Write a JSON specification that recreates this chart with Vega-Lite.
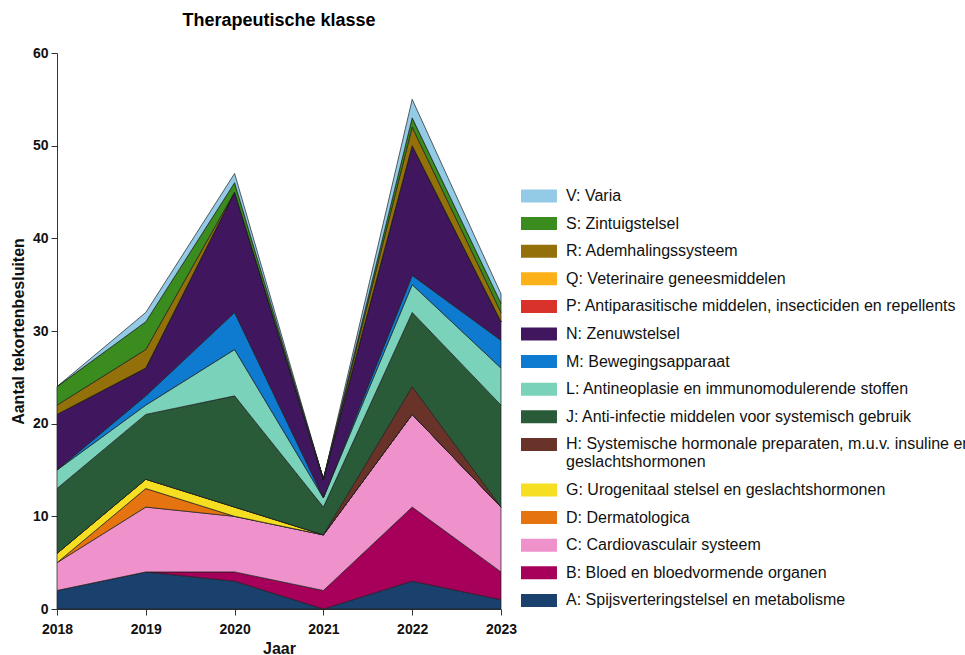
{
  "$schema": "https://vega.github.io/schema/vega-lite/v6.json",
  "width": 444,
  "height": 556,
  "autosize": {"type": "none"},
  "padding": {"left": 57, "top": 53, "right": 464, "bottom": 46},
  "background": "white",
  "config": {
    "view": {"stroke": null},
    "font": "Liberation Sans"
  },
  "title": {
    "text": "Therapeutische klasse",
    "fontSize": 18,
    "fontWeight": "bold",
    "font": "Liberation Sans",
    "color": "#000",
    "anchor": "middle",
    "baseline": "alphabetic",
    "offset": 2
  },
  "datasets": {
    "counts": [
      {"jaar": 2018, "A": 2, "B": 0, "C": 3, "D": 0, "G": 1, "H": 0, "J": 7, "L": 2, "M": 0, "N": 6, "P": 0, "Q": 0, "R": 1, "S": 2, "V": 0},
      {"jaar": 2019, "A": 4, "B": 0, "C": 7, "D": 2, "G": 1, "H": 0, "J": 7, "L": 1, "M": 1, "N": 3, "P": 0, "Q": 0, "R": 2, "S": 3, "V": 1},
      {"jaar": 2020, "A": 3, "B": 1, "C": 6, "D": 0, "G": 1, "H": 0, "J": 12, "L": 5, "M": 4, "N": 13, "P": 0, "Q": 0, "R": 0, "S": 1, "V": 1},
      {"jaar": 2021, "A": 0, "B": 2, "C": 6, "D": 0, "G": 0, "H": 0, "J": 3, "L": 1, "M": 0, "N": 2, "P": 0, "Q": 0, "R": 0, "S": 0, "V": 0},
      {"jaar": 2022, "A": 3, "B": 8, "C": 10, "D": 0, "G": 0, "H": 3, "J": 8, "L": 3, "M": 1, "N": 14, "P": 0, "Q": 0, "R": 2, "S": 1, "V": 2},
      {"jaar": 2023, "A": 1, "B": 3, "C": 7, "D": 0, "G": 0, "H": 0, "J": 11, "L": 4, "M": 3, "N": 2, "P": 0, "Q": 0, "R": 1, "S": 1, "V": 1}
    ],
    "klassen": [
      {"code": "A", "label": "A: Spijsverteringstelsel en metabolisme"},
      {"code": "B", "label": "B: Bloed en bloedvormende organen"},
      {"code": "C", "label": "C: Cardiovasculair systeem"},
      {"code": "D", "label": "D: Dermatologica"},
      {"code": "G", "label": "G: Urogenitaal stelsel en geslachtshormonen"},
      {"code": "H", "label": "H: Systemische hormonale preparaten, m.u.v. insuline en|geslachtshormonen"},
      {"code": "J", "label": "J: Anti-infectie middelen voor systemisch gebruik"},
      {"code": "L", "label": "L: Antineoplasie en immunomodulerende stoffen"},
      {"code": "M", "label": "M: Bewegingsapparaat"},
      {"code": "N", "label": "N: Zenuwstelsel"},
      {"code": "P", "label": "P: Antiparasitische middelen, insecticiden en repellents"},
      {"code": "Q", "label": "Q: Veterinaire geneesmiddelen"},
      {"code": "R", "label": "R: Ademhalingssysteem"},
      {"code": "S", "label": "S: Zintuigstelsel"},
      {"code": "V", "label": "V: Varia"}
    ]
  },
  "data": {"name": "counts"},
  "transform": [
    {"fold": ["A", "B", "C", "D", "G", "H", "J", "L", "M", "N", "P", "Q", "R", "S", "V"], "as": ["code", "n"]},
    {"lookup": "code", "from": {"data": {"name": "klassen"}, "key": "code", "fields": ["label"]}}
  ],
  "mark": {
    "type": "area",
    "line": false,
    "interpolate": "linear",
    "stroke": "#1e1e1e",
    "strokeWidth": 0.7,
    "fillOpacity": 1
  },
  "encoding": {
    "x": {
      "field": "jaar",
      "type": "quantitative",
      "scale": {"domain": [2018, 2023], "nice": false, "zero": false},
      "axis": {
        "title": "Jaar",
        "values": [2018, 2019, 2020, 2021, 2022, 2023],
        "format": "d",
        "grid": false,
        "labelFlush": false,
        "labelFontSize": 14,
        "labelFontWeight": "bold",
        "labelColor": "#111",
        "labelPadding": 7,
        "tickSize": 6,
        "tickColor": "#333",
        "domainColor": "#333",
        "titleFontSize": 16,
        "titleFontWeight": "bold",
        "titleColor": "#111",
        "titleBaseline": "top",
        "titleY": 31
      }
    },
    "y": {
      "field": "n",
      "type": "quantitative",
      "stack": "zero",
      "scale": {"domain": [0, 60], "nice": false},
      "axis": {
        "title": "Aantal tekortenbesluiten",
        "values": [0, 10, 20, 30, 40, 50, 60],
        "grid": false,
        "labelFontSize": 14,
        "labelFontWeight": "bold",
        "labelColor": "#111",
        "labelPadding": 3,
        "tickSize": 6,
        "tickColor": "#333",
        "domainColor": "#333",
        "titleFontSize": 16,
        "titleFontWeight": "bold",
        "titleColor": "#111",
        "titleBaseline": "bottom",
        "titleX": -31
      }
    },
    "color": {
      "field": "label",
      "type": "nominal",
      "scale": {
        "domain": [
          "V: Varia",
          "S: Zintuigstelsel",
          "R: Ademhalingssysteem",
          "Q: Veterinaire geneesmiddelen",
          "P: Antiparasitische middelen, insecticiden en repellents",
          "N: Zenuwstelsel",
          "M: Bewegingsapparaat",
          "L: Antineoplasie en immunomodulerende stoffen",
          "J: Anti-infectie middelen voor systemisch gebruik",
          "H: Systemische hormonale preparaten, m.u.v. insuline en|geslachtshormonen",
          "G: Urogenitaal stelsel en geslachtshormonen",
          "D: Dermatologica",
          "C: Cardiovasculair systeem",
          "B: Bloed en bloedvormende organen",
          "A: Spijsverteringstelsel en metabolisme"
        ],
        "range": [
          "#93cbe7", "#3a8c1e", "#94700a", "#fbb117", "#d9322b",
          "#40175e", "#0e7bd0", "#79d2b9", "#2a5b39", "#6a3329",
          "#f6df23", "#e5730f", "#ef92cc", "#a6005b", "#1a406e"
        ]
      },
      "legend": {
        "orient": "none",
        "legendX": 463,
        "legendY": 135,
        "title": null,
        "padding": 0,
        "symbolType": "M-1,-0.93H4.14V0.93H-1Z",
        "symbolSize": 196,
        "symbolStrokeWidth": 0,
        "symbolOpacity": 1,
        "labelFontSize": 16,
        "labelFont": "Liberation Sans",
        "labelColor": "#111",
        "labelOffset": 30,
        "labelLimit": 1000,
        "rowPadding": 11.6,
        "labelExpr": "split(datum.label, '|')",
        "encode": {
          "labels": {
            "update": {"lineHeight": {"value": 17}}
          }
        }
      }
    },
    "order": {"field": "code", "sort": "ascending"}
  }
}
